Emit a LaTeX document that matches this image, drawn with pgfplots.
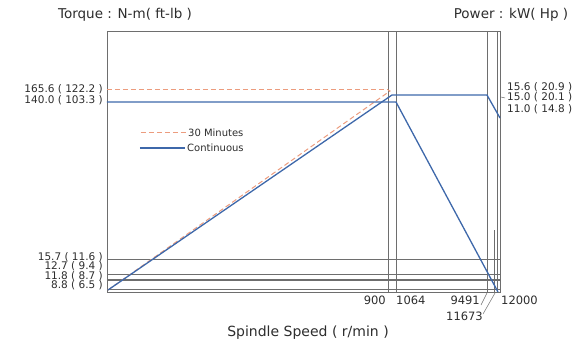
\documentclass[border=0pt]{standalone}
\usepackage{pgfplots}
\pgfplotsset{compat=1.18}
\usepackage{fontspec}
\setmainfont{DejaVu Sans}
\definecolor{cblue}{RGB}{62,104,170}
\definecolor{cpeach}{RGB}{236,156,126}
\definecolor{cgrid}{RGB}{110,110,110}
\definecolor{ctext}{RGB}{45,45,45}
\begin{document}
\begin{tikzpicture}
\begin{axis}[
  width=393pt, height=261pt, scale only axis,
  xmin=107, xmax=500, ymin=53, ymax=314,
  axis line style={cgrid, line width=0.8pt},
  xtick=\empty, ytick=\empty,
  clip=false,
]
% invisible frame for the full picture size
\path (axis cs:0,0) rectangle (axis cs:586,345);
% reference lines
\addplot[cgrid, line width=0.6pt, forget plot] coordinates {(107,86) (500,86)};
\addplot[cgrid, line width=0.6pt, forget plot] coordinates {(107,71) (500,71)};
\addplot[cgrid, line width=1.1pt, forget plot] coordinates {(107,65) (500,65)};
\addplot[cgrid, line width=0.6pt, forget plot] coordinates {(107,56) (500,56)};
\addplot[cgrid, line width=0.6pt, forget plot] coordinates {(388,53) (388,314)};
\addplot[cgrid, line width=0.6pt, forget plot] coordinates {(396,53) (396,314)};
\addplot[cgrid, line width=0.6pt, forget plot] coordinates {(487,53) (487,314)};
\addplot[cgrid, line width=0.6pt, forget plot] coordinates {(497.5,53) (497.5,314)};
\addplot[cgrid, line width=0.6pt, forget plot] coordinates {(494.5,53) (494.5,115)};
% 30 minutes
\addplot[cpeach, dash pattern=on 5pt off 3pt, line width=1pt, forget plot] coordinates {(107,255) (388,255)};
\addplot[cpeach, dash pattern=on 5pt off 3pt, line width=1pt, forget plot] coordinates {(108,55) (390,254) (388,255)};
% continuous
\addplot[cblue, line width=1.3pt, forget plot] coordinates {(107,243) (396,243) (498,53)};
\addplot[cblue, line width=1.3pt, forget plot] coordinates {(108,55) (392,250) (487,250) (500,227)};
% legend samples
\addplot[cpeach, dash pattern=on 5pt off 3pt, line width=1pt, forget plot] coordinates {(141,212) (186,212)};
\addplot[cblue, line width=1.3pt, forget plot] coordinates {(140,197) (185,197)};
% leaders
\addplot[cgrid, line width=0.5pt, forget plot] coordinates {(481,40) (487,52)};
\addplot[cgrid, line width=0.5pt, forget plot] coordinates {(483,31) (495,52)};
\addplot[cgrid, line width=0.5pt, forget plot] coordinates {(501,248) (505,247)};
% titles
\node[font=\fontsize{13.5}{15}\selectfont, text=ctext] at (axis cs:125,330) {Torque : N-m( ft-lb )};
\node[font=\fontsize{13.5}{15}\selectfont, text=ctext] at (axis cs:511,330) {Power : kW( Hp )};
\node[font=\fontsize{14}{15}\selectfont, text=ctext] at (axis cs:308,12) {Spindle Speed ( r/min )};
% legend text
\node[font=\fontsize{10}{11}\selectfont, text=ctext, anchor=west, inner sep=0pt] at (axis cs:188,212.5) {30 Minutes};
\node[font=\fontsize{10}{11}\selectfont, text=ctext, anchor=west, inner sep=0pt] at (axis cs:187,197.5) {Continuous};
% left labels
\begin{scope}[every node/.style={font=\fontsize{10.5}{11}\selectfont, text=ctext, inner sep=0pt}]
\node[anchor=east] at (axis cs:103,255.5) {165.6 ( 122.2 )};
\node[anchor=east] at (axis cs:103,245) {140.0 ( 103.3 )};
\node[anchor=east] at (axis cs:103,88) {15.7 ( 11.6 )};
\node[anchor=east] at (axis cs:103,78.5) {12.7 ( 9.4 )};
\node[anchor=east] at (axis cs:103,69) {11.8 ( 8.7 )};
\node[anchor=east] at (axis cs:103,59.5) {8.8 ( 6.5 )};
% right labels
\node[anchor=west] at (axis cs:507,257.5) {15.6 ( 20.9 )};
\node[anchor=west] at (axis cs:507,247.5) {15.0 ( 20.1 )};
\node[anchor=west] at (axis cs:507,236) {11.0 ( 14.8 )};
\end{scope}
% bottom labels
\begin{scope}[every node/.style={font=\fontsize{11.5}{12}\selectfont, text=ctext, inner sep=0pt}]
\node[anchor=east] at (axis cs:386,45) {900};
\node[anchor=west] at (axis cs:396,45) {1064};
\node[anchor=east] at (axis cs:480,45) {9491};
\node[anchor=west] at (axis cs:501,45) {12000};
\node[anchor=east] at (axis cs:483,29) {11673};
\end{scope}
\end{axis}
\end{tikzpicture}
\end{document}
